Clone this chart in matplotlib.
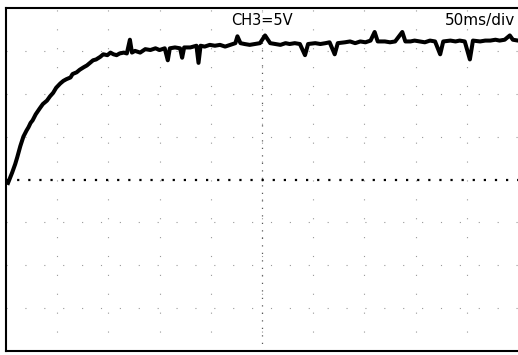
import matplotlib
matplotlib.use("Agg")
import matplotlib.pyplot as plt

# scope trace: time in ms, voltage in V (5 V/div, 50 ms/div)
# rising part
rise_t = [2, 4, 6, 9, 11, 14, 17, 20, 22, 24,
          26, 29, 33, 36, 40, 43, 46, 49, 53, 56,
          59, 63, 65, 69, 72, 76, 79, 82, 85, 88,
          92, 95, 99, 102, 105, 108, 111, 115, 118]
rise_v = [-0.4, 0.2, 0.8, 1.8, 2.6, 3.9, 5.0, 5.7, 6.1, 6.6,
          6.9, 7.6, 8.3, 8.8, 9.2, 9.7, 10.1, 10.7, 11.2, 11.5,
          11.7, 11.9, 12.3, 12.5, 12.8, 13.1, 13.3, 13.6, 13.9, 14.0,
          14.3, 14.6, 14.5, 14.8, 14.6, 14.5, 14.7, 14.8, 14.7]
# flat part with its glitches
flat_t = [121, 123, 126, 131, 136, 141, 146, 150, 155, 158,
          160, 165, 170, 172, 174, 180, 186, 188, 190, 194,
          199, 204, 209, 214, 219, 224, 226, 229, 233, 238,
          243, 248, 253, 258, 263, 268, 273, 277, 282, 287,
          292, 295, 302, 307, 312, 316, 321, 324, 331, 336,
          341, 346, 351, 356, 360, 363, 370, 375, 380, 387,
          390, 395, 399, 404, 409, 414, 419, 424, 427, 434,
          439, 443, 448, 453, 456, 463, 468, 473, 478, 482,
          487, 492, 495, 500]
flat_v = [16.3, 14.8, 15.0, 14.8, 15.2, 15.1, 15.3, 15.1, 15.3, 13.9,
          15.3, 15.4, 15.3, 14.2, 15.4, 15.4, 15.6, 13.6, 15.6, 15.5,
          15.7, 15.6, 15.7, 15.5, 15.7, 15.9, 16.7, 15.9, 15.8, 15.7,
          15.8, 15.9, 16.8, 15.9, 15.8, 15.7, 15.9, 15.8, 15.9, 15.8,
          14.5, 15.8, 15.9, 15.8, 15.9, 16.0, 14.6, 15.9, 16.0, 16.1,
          15.9, 16.1, 16.0, 16.2, 17.2, 16.1, 16.1, 16.0, 16.1, 17.2,
          16.1, 16.1, 16.2, 16.1, 16.0, 16.2, 16.1, 14.6, 16.1, 16.2,
          16.1, 16.2, 16.1, 14.0, 16.2, 16.1, 16.2, 16.2, 16.3, 16.2,
          16.3, 16.8, 16.3, 16.2]

fig = plt.figure(figsize=(5.18, 3.55), dpi=100)
ax = fig.add_axes([6 / 518, 4 / 355, 512 / 518, 343 / 355])
ax.set_xlim(0, 500)
ax.set_ylim(-20, 20)

# faint graticule
for k in range(1, 10):
    ax.axvline(k * 50, color="0.6", lw=0.8, ls=(0, (1, 16)))
for k in (-15, -10, -5, 5, 10, 15):
    ax.axhline(k, color="0.6", lw=0.8, ls=(0, (1, 16)))
# centre lines
ax.axhline(0, color="black", lw=1.6, ls=(0, (1, 4)))
ax.axvline(250, color="0.35", lw=0.9, ls=(0, (1, 5)))

ax.plot(rise_t + flat_t, rise_v + flat_v, color="black", lw=2.9)

box = dict(facecolor="white", edgecolor="none", pad=0.5)
ax.text(250, 18.5, "CH3=5V", ha="center", va="center",
        fontsize=10.5, bbox=box)
ax.text(497, 18.5, "50ms/div", ha="right", va="center",
        fontsize=11, bbox=box)

ax.set_xticks([])
ax.set_yticks([])
for side in ("left", "top", "bottom"):
    ax.spines[side].set_linewidth(1.5)
ax.spines["right"].set_visible(False)

fig.savefig("out.png", dpi=100)
